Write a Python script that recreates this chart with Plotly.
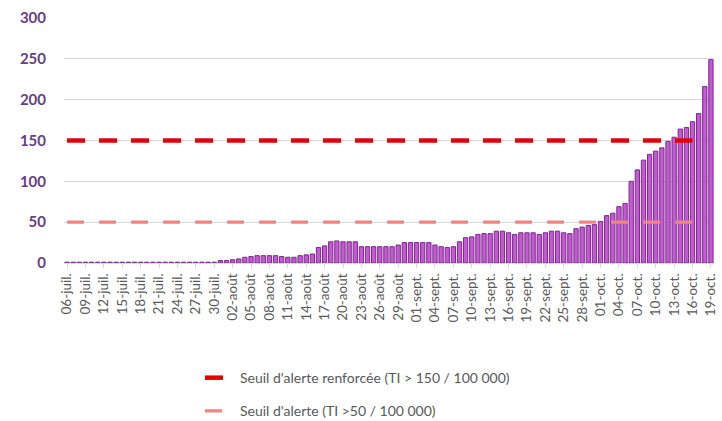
import pandas as pd
import plotly.graph_objects as go

# ---- data -------------------------------------------------------------
start_date = "2020-07-06"
end_date = "2020-10-19"
month_fr = {7: "juil.", 8: "août", 9: "sept.", 10: "oct."}

dates = pd.date_range(start_date, end_date, freq="D")
categories = [f"{d.day:02d}-{month_fr[d.month]}" for d in dates]

# taux d'incidence (pour 100 000 hab.)
incidence = [
    1, 1, 1, 1, 1, 1, 1, 1, 1, 1,          # 06-15 juil.
    1, 1, 1, 1, 1, 1, 1, 1, 1, 1,          # 16-25 juil.
    1, 1, 1, 1, 1, 3, 3, 4, 5, 7,          # 26 juil.-04 août
    8, 9, 9, 9, 9, 8, 7, 7, 9, 10,         # 05-14 août
    11, 19, 21, 26, 27, 26, 26, 26, 20, 20,  # 15-24 août
    20, 20, 20, 20, 22, 25, 25, 25, 25, 25,  # 25 août-03 sept.
    22, 20, 19, 20, 26, 31, 32, 35, 36, 36,  # 04-13 sept.
    39, 39, 37, 35, 37, 37, 37, 35, 37, 39,  # 14-23 sept.
    39, 37, 36, 42, 44, 46, 47, 51, 58, 61,  # 24 sept.-03 oct.
    69, 73, 100, 114, 126, 133, 137, 141, 149, 154,  # 04-13 oct.
    164, 166, 173, 183, 216, 249,          # 14-19 oct.
]

threshold_dates = ["06-juil.", "16-oct."]
threshold_high = [150, 150]
threshold_low = [50, 50]

tick_labels = categories[::3]
y_ticks = [0, 50, 100, 150, 200, 250, 300]

name_high = "Seuil d'alerte renforcée (TI > 150 / 100 000)"
name_low = "Seuil d'alerte (TI >50 / 100 000)"

# ---- figure -----------------------------------------------------------
fig = go.Figure()

fig.add_trace(go.Bar(
    x=categories, y=incidence,
    marker=dict(color="#C25AD0", line=dict(color="#7A2A8C", width=1)),
    showlegend=False, hoverinfo="x+y",
))

fig.add_trace(go.Scatter(
    x=threshold_dates, y=threshold_high, mode="lines", name=name_high,
    line=dict(color="#E40000", width=4.5, dash="18px,14px"),
    legendgroup="high",
))
fig.add_trace(go.Scatter(
    x=threshold_dates, y=threshold_low, mode="lines", name=name_low,
    line=dict(color="#EE8585", width=3.3, dash="17px,15px"),
    legendgroup="low",
))

fig.update_layout(
    width=722, height=421,
    margin=dict(l=64, r=8, t=18, b=158, autoexpand=False),
    paper_bgcolor="white", plot_bgcolor="white",
    bargap=0.3,
    font=dict(family="Lato, 'Open Sans', sans-serif", color="#595959"),
    legend=dict(
        orientation="v",
        xref="container", yref="container",
        x=0.277, xanchor="left", y=0.140, yanchor="top",
        font=dict(size=14, color="#595959"),
        tracegroupgap=12, bgcolor="rgba(0,0,0,0)",
    ),
)

fig.update_xaxes(
    type="category",
    categoryorder="array", categoryarray=categories,
    tickmode="array", tickvals=tick_labels, ticktext=tick_labels,
    tickangle=-90, tickfont=dict(size=13.5, color="#595959"),
    ticks="outside", ticklen=4, tickcolor="#D9D9D9",
    showline=True, linecolor="#D9D9D9", linewidth=1,
    showgrid=False, automargin=False, ticklabeloverflow="allow",
)
fig.update_yaxes(
    range=[0, 300], tickvals=y_ticks,
    tickfont=dict(size=15, color="#66407F", weight="bold"),
    showgrid=True, gridcolor="#D9D9D9", gridwidth=1,
    zeroline=False, showline=False, ticks="",
    ticklabelstandoff=17, automargin=False,
)

fig.write_html(
    "out.html",
    config={"displayModeBar": False},
    post_script="document.body.style.margin='0';document.body.style.overflow='hidden';",
)
